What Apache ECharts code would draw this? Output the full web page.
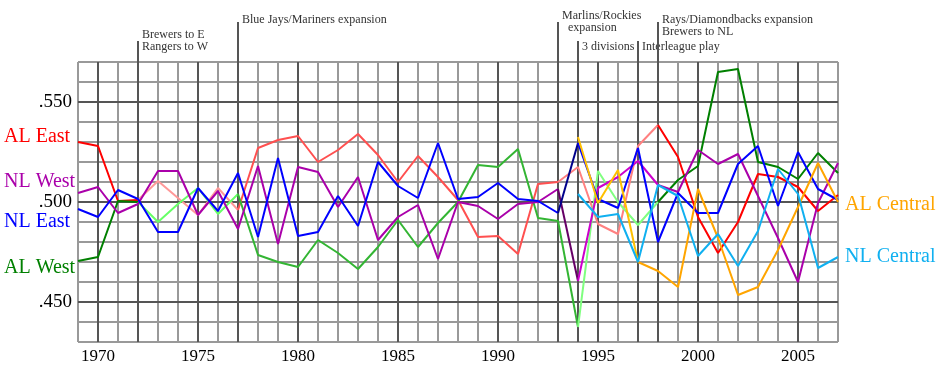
<!DOCTYPE html>
<html>
<head>
<meta charset="utf-8">
<script src="https://cdn.jsdelivr.net/npm/echarts@6/dist/echarts.min.js"></script>
<style>
  html, body { margin: 0; padding: 0; background: #fff; }
  #chart { width: 941px; height: 378px; }
</style>
</head>
<body>
<div id="chart"></div>
<script>
// division winning pct by season, 1969..2007
const years = [1969, 1970, 1971, 1972, 1973, 1974, 1975, 1976, 1977, 1978,
  1979, 1980, 1981, 1982, 1983, 1984, 1985, 1986, 1987, 1988,
  1989, 1990, 1991, 1992, 1993, 1994, 1995, 1996, 1997, 1998,
  1999, 2000, 2001, 2002, 2003, 2004, 2005, 2006, 2007]

const alEast = [.530, .528, .5005, .501, .5105, .502, .4935, .507, .496, .527,
  .531, .533, .520, .526, .534, .5235, .510, .523, .5125, .501,
  .4825, .483, .474, .509, .510, .5175, .489, .484, .528, .5385,
  .5225, .4925, .4745, .490, .514, .5125, .5075, .4955, .5035]
const alWest = [.4705, .4725, .5005, .500, .490, .499, .507, .494, .504, .4735,
  .470, .4675, .481, .4745, .4665, .4775, .491, .4775, .4895, .500,
  .5185, .5175, .5265, .492, .4905, .4375, .5155, .500, .4885, .500,
  .511, .518, .565, .5665, .520, .5175, .5115, .5245, .5145]
const nlWest = [.5045, .5075, .4945, .499, .5155, .5155, .4935, .5055, .4865, .518,
  .479, .5175, .515, .4975, .5125, .481, .4925, .4985, .4715, .500,
  .498, .4915, .499, .500, .5065, .4605, .507, .5125, .5205, .5085,
  .505, .526, .519, .524, .503, .482, .460, .4995, .5195]
const nlEast = [.4965, .4925, .506, .5015, .485, .485, .507, .4955, .5145, .4825,
  .522, .483, .485, .503, .488, .520, .508, .502, .5295, .5015,
  .5025, .5095, .5015, .5005, .4945, .5295, .5015, .497, .527, .480,
  .5045, .4945, .4945, .519, .528, .498, .525, .5065, .501]
const alCentral = [null, null, null, null, null, null, null, null, null, null,
  null, null, null, null, null, null, null, null, null, null,
  null, null, null, null, null, .5325, .4995, .516, .470, .4655,
  .4575, .5065, .482, .4535, .4575, .476, .4975, .5195, .500]
const nlCentral = [null, null, null, null, null, null, null, null, null, null,
  null, null, null, null, null, null, null, null, null, null,
  null, null, null, null, null, .504, .4925, .494, .470, .5085,
  .503, .473, .484, .468, .4855, .5165, .504, .467, .4725]

// realignment events
const eventYears = [1972, 1977, 1993, 1994, 1997, 1998]
const eventTexts = [
  ['Brewers to E', 'Rangers to W'],
  ['Blue Jays/Mariners expansion'],
  ['Marlins/Rockies', '  expansion'],
  ['3 divisions'],
  ['Interleague play'],
  ['Rays/Diamondbacks expansion', 'Brewers to NL']
]

const majorYears = [1970, 1975, 1980, 1985, 1990, 1995, 2000, 2005]
const majorPcts = [.450, .500, .550]

// colour eras of each division line: [from, to, colour]
const divisions = [
  { name: 'AL East', values: alEast, eras: [[1969, 1972, '#ff0000'], [1972, 1977, '#ff9999'], [1977, 1993, '#ff5050'], [1993, 1998, '#ff8080'], [1998, 2007, '#ff0000']] },
  { name: 'AL West', values: alWest, eras: [[1969, 1972, '#008000'], [1972, 1977, '#66ff66'], [1977, 1994, '#33b533'], [1994, 1998, '#80ff80'], [1998, 2007, '#008000']] },
  { name: 'NL West', values: nlWest, eras: [[1969, 1993, '#aa00aa'], [1993, 1994, '#660066'], [1994, 1998, '#cc00cc'], [1998, 2007, '#aa00aa']] },
  { name: 'NL East', values: nlEast, eras: [[1969, 1993, '#0000ff'], [1993, 1994, '#00008b'], [1994, 2007, '#0000ff']] },
  { name: 'AL Central', values: alCentral, eras: [[1994, 1997, '#ffc000'], [1997, 2007, '#ffa500']] },
  { name: 'NL Central', values: nlCentral, eras: [[1994, 2007, '#10b0f0']] }
]

const yMin = 0.43
const yMax = 0.57
const serif = '"Liberation Serif", "DejaVu Serif", serif'

const series = []
divisions.forEach(d => {
  d.eras.forEach(era => {
    const pts = []
    years.forEach((yr, i) => {
      if (yr >= era[0] && yr <= era[1] && d.values[i] != null) pts.push([yr, d.values[i]])
    })
    series.push({
      name: d.name,
      type: 'line',
      data: pts,
      symbol: 'none',
      z: 3,
      lineStyle: { color: era[2], width: 2 }
    })
  })
})

// darker grid lines every 5 years / .050
series.push({
  type: 'custom',
  silent: true,
  z: 1,
  data: majorYears.map(y => [y, yMin]),
  encode: { x: 0, y: 1 },
  renderItem(params, api) {
    const a = api.coord([api.value(0), yMin])
    const b = api.coord([api.value(0), yMax])
    return { type: 'line', shape: { x1: a[0], y1: a[1], x2: b[0], y2: b[1] }, style: { stroke: '#555', lineWidth: 2 } }
  }
})
series.push({
  type: 'custom',
  silent: true,
  z: 1,
  data: majorPcts.map(p => [1969, p]),
  encode: { x: 0, y: 1 },
  renderItem(params, api) {
    const a = api.coord([1969, api.value(1)])
    const b = api.coord([2007, api.value(1)])
    return { type: 'line', shape: { x1: a[0], y1: a[1], x2: b[0], y2: b[1] }, style: { stroke: '#555', lineWidth: 2 } }
  }
})

// event lines reaching above the plot, with their notes
const rise = [21, 40, 40, 21, 21, 40]
const textDy = [-6, -2, -6, 6, 6, -2]
series.push({
  type: 'custom',
  silent: true,
  clip: false,
  z: 1,
  data: eventYears.map(y => [y, yMin]),
  encode: { x: 0, y: 1 },
  renderItem(params, api) {
    const i = params.dataIndex
    const a = api.coord([api.value(0), yMin])
    const b = api.coord([api.value(0), yMax])
    const top = b[1] - rise[i]
    const children = [{ type: 'line', shape: { x1: a[0], y1: a[1], x2: b[0], y2: top }, style: { stroke: '#555', lineWidth: 2 } }]
    eventTexts[i].forEach((t, k) => {
      children.push({
        type: 'text',
        x: a[0] + 4,
        y: top + textDy[i] + k * 12,
        style: { text: t, fill: '#333', font: '12px ' + serif, textVerticalAlign: 'middle', textAlign: 'left' }
      })
    })
    return { type: 'group', children }
  }
})

const legendText = (x, y, text, color) => ({
  type: 'text', x, y,
  style: { text, fill: color, font: '20px ' + serif, textVerticalAlign: 'middle' }
})

const chart = echarts.init(document.getElementById('chart'))
chart.setOption({
  animation: false,
  backgroundColor: '#fff',
  grid: { left: 78, right: 103, top: 62, bottom: 36 },
  xAxis: {
    type: 'value',
    min: 1969,
    max: 2007,
    interval: 1,
    axisLine: { show: false },
    axisTick: { show: false },
    axisLabel: {
      margin: 6,
      color: '#000',
      fontFamily: serif,
      fontSize: 17,
      formatter: v => (v % 5 === 0 ? String(v) : '')
    },
    splitLine: { show: true, lineStyle: { color: '#999', width: 2 } }
  },
  yAxis: {
    type: 'value',
    min: yMin,
    max: yMax,
    interval: 0.01,
    axisLine: { show: false },
    axisTick: { show: false },
    axisLabel: {
      margin: 6,
      color: '#000',
      fontFamily: serif,
      fontSize: 19,
      formatter: v => {
        const m = Math.round(v * 1000)
        return m % 50 === 0 ? '.' + m : ''
      }
    },
    splitLine: { show: true, lineStyle: { color: '#999', width: 2 } }
  },
  graphic: [
    legendText(4, 137, 'AL East', '#ff0000'),
    legendText(4, 182, 'NL West', '#aa00aa'),
    legendText(4, 222, 'NL East', '#0000ff'),
    legendText(4, 268, 'AL West', '#008000'),
    legendText(845, 205, 'AL Central', '#ffa500'),
    legendText(845, 257, 'NL Central', '#10b0f0')
  ],
  series
})
</script>
</body>
</html>
